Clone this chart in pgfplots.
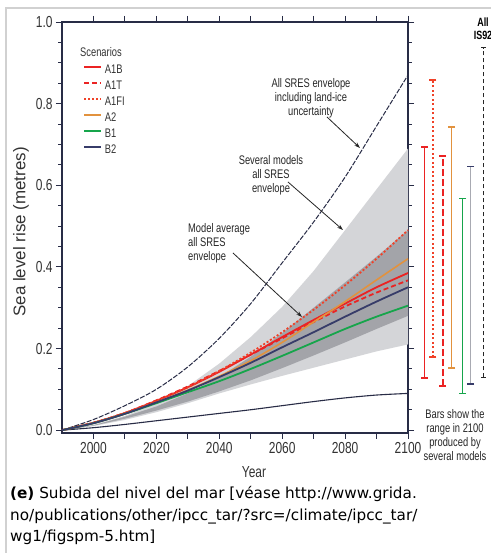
\documentclass[border=0pt]{standalone}
\usepackage{fontspec}
\setmainfont{Liberation Sans}
\newfontfamily\cond[FakeStretch=0.75]{Liberation Sans}
\newfontfamily\capfont{DejaVu Sans}
\usepackage{pgfplots}
\usepackage{pgfplotstable}
\pgfplotsset{compat=1.18}
\usetikzlibrary{arrows.meta}
\definecolor{axc}{RGB}{40,44,70}
\definecolor{lgray}{RGB}{212,213,216}
\definecolor{dgray}{RGB}{163,164,169}
\definecolor{cA1B}{RGB}{235,35,35}
\definecolor{cA1FI}{RGB}{240,65,40}
\definecolor{cA2}{RGB}{226,146,62}
\definecolor{cB1}{RGB}{22,165,75}
\definecolor{cB2}{RGB}{55,60,105}
\definecolor{bargray}{RGB}{168,170,178}
\pgfplotstableread{
year UO    LO    A1B   A1T   A1FI  A2    B1    B2
1990 0     0     0     0     0     0     0     0
2000 0.026 0.006 0.018 0.018 0.018 0.017 0.017 0.017
2010 0.060 0.014 0.042 0.042 0.042 0.040 0.040 0.040
2020 0.100 0.023 0.072 0.073 0.072 0.068 0.066 0.068
2030 0.155 0.032 0.105 0.107 0.105 0.098 0.093 0.097
2040 0.225 0.041 0.143 0.145 0.145 0.132 0.120 0.130
2050 0.310 0.050 0.185 0.185 0.190 0.170 0.150 0.165
2060 0.410 0.060 0.228 0.225 0.240 0.215 0.182 0.203
2070 0.510 0.070 0.270 0.265 0.295 0.265 0.215 0.240
2080 0.620 0.079 0.310 0.303 0.355 0.315 0.248 0.278
2090 0.745 0.086 0.350 0.337 0.420 0.368 0.278 0.315
2100 0.870 0.090 0.385 0.367 0.490 0.420 0.305 0.350
}\data
\begin{document}
\begin{tikzpicture}
\useasboundingbox (0,0) rectangle (491bp,553bp);
\fill[white] (0,0) rectangle (491bp,553bp);
\draw[black!18, line width=1.5bp] (6bp,0bp) -- (6bp,545bp) -- (492bp,545bp);
\begin{axis}[
 at={(62bp,120bp)}, anchor=south west,
 scale only axis, width=346bp, height=411bp,
 xmin=1990, xmax=2100, ymin=-0.007, ymax=1.0,
 clip=false,
 axis line style={axc, line width=1.1bp},
 tick style={axc, line width=0.9bp},
 tick align=outside, tick pos=both,
 major tick length=6bp, minor tick length=3.5bp,
 xtick={2000,2010,...,2100},
 xticklabels={2000,,2020,,2040,,2060,,2080,,2100},
 ytick={0,0.2,0.4,0.6,0.8,1.0},
 yticklabels={0.0,0.2,0.4,0.6,0.8,1.0},
 minor ytick={0.05,0.1,0.15,0.25,0.3,0.35,0.45,0.5,0.55,0.65,0.7,0.75,0.85,0.9,0.95},
 tick label style={font=\cond\fontsize{16}{16}\selectfont, text=black!80},
 legend style={at={(0.052,0.901)}, anchor=north west, draw=none, fill=none,
   font=\cond\fontsize{12.5}{12.5}\selectfont, row sep=5bp,
   nodes={inner sep=0pt, text height=9bp, text depth=2bp, text=black!80},
   /tikz/every odd column/.append style={column sep=3bp}},
 legend cell align=left,
 legend image code/.code={\draw[#1] (0bp,3.5bp) -- (17bp,3.5bp);},
]
% several models, all SRES envelope (light) and model average envelope (dark)
\addplot[fill=lgray, draw=none, forget plot] coordinates {
 (1990,0) (2000,0.013) (2010,0.035) (2020,0.066) (2030,0.108) (2040,0.163) (2050,0.228)
 (2060,0.302) (2070,0.390) (2080,0.490) (2090,0.590) (2100,0.690)
 (2100,0.210) (2090,0.193) (2080,0.173) (2070,0.153) (2060,0.133) (2050,0.112)
 (2040,0.090) (2030,0.066) (2020,0.044) (2010,0.025) (2000,0.010) (1990,0)} -- cycle;
\addplot[fill=dgray, draw=none, forget plot] coordinates {
 (1990,0) (2000,0.012) (2010,0.033) (2020,0.058) (2030,0.090) (2040,0.130) (2050,0.180)
 (2060,0.238) (2070,0.300) (2080,0.362) (2090,0.425) (2100,0.490)
 (2100,0.280) (2090,0.248) (2080,0.215) (2070,0.183) (2060,0.152) (2050,0.122)
 (2040,0.095) (2030,0.070) (2020,0.048) (2010,0.028) (2000,0.011) (1990,0)} -- cycle;
\addplot[axc, line width=1bp, dash pattern=on 5bp off 1.5bp, smooth, forget plot] table[x=year,y=UO]{\data};
\addplot[axc, line width=1.1bp, smooth, forget plot] table[x=year,y=LO]{\data};
% scenarios
\addplot[cA1B, line width=1.8bp, smooth] table[x=year,y=A1B]{\data};
\addlegendentry{A1B}
\addplot[cA1B, line width=1.8bp, dash pattern=on 5bp off 3bp, smooth] table[x=year,y=A1T]{\data};
\addlegendentry{A1T}
\addplot[cA1FI, line width=1.8bp, dash pattern=on 2bp off 2bp, smooth] table[x=year,y=A1FI]{\data};
\addlegendentry{A1FI}
\addplot[cA2, line width=1.6bp, smooth] table[x=year,y=A2]{\data};
\addlegendentry{A2}
\addplot[cB1, line width=1.8bp, smooth] table[x=year,y=B1]{\data};
\addlegendentry{B1}
\addplot[cB2, line width=1.8bp, smooth] table[x=year,y=B2]{\data};
\addlegendentry{B2}
% range bars in 2100
\addplot[cA1B, line width=1.5bp, mark=-, mark size=3.5bp, forget plot] coordinates {(2105.2,0.128) (2105.2,0.694)};
\addplot[cA1FI, line width=2.2bp, dash pattern=on 2bp off 2.5bp, mark=-, mark size=3.5bp, mark options={solid}, forget plot] coordinates {(2107.9,0.179) (2107.9,0.858)};
\addplot[cA1B, line width=2.2bp, dash pattern=on 7bp off 3bp, mark=-, mark size=3.5bp, mark options={solid}, forget plot] coordinates {(2111.0,0.109) (2111.0,0.672)};
\addplot[cA2, line width=1.3bp, mark=-, mark size=3.5bp, forget plot] coordinates {(2113.9,0.152) (2113.9,0.743)};
\addplot[cB1, line width=1.3bp, mark=-, mark size=3.5bp, forget plot] coordinates {(2117.4,0.089) (2117.4,0.567)};
\addplot[bargray, line width=1.6bp, mark=-, mark size=3.5bp, mark options={cB2, solid}, forget plot] coordinates {(2119.9,0.113) (2119.9,0.646)};
\addplot[black!85, line width=1bp, dash pattern=on 4bp off 3bp, mark=-, mark size=2.5bp, mark options={solid}, forget plot] coordinates {(2123.9,0.129) (2123.9,0.937)};
\end{axis}
% texts
\node[anchor=west, inner sep=0, font=\cond\fontsize{12.5}{12.5}\selectfont, text=black!80] at (80bp,501bp) {Scenarios};
\node[rotate=90, inner sep=0, font=\fontsize{17}{17}\selectfont, text=black!80] at (21bp,321bp) {Sea level rise (metres)};
\node[inner sep=0, font=\cond\fontsize{16}{16}\selectfont, text=black!80] at (254bp,81bp) {Year};
\begin{scope}[font=\cond\fontsize{12.5}{14}\selectfont, text=black!85]
\node[align=center, inner sep=0] at (311bp,455bp) {All SRES envelope\\including land-ice\\uncertainty};
\node[align=center, inner sep=0] at (271bp,378bp) {Several models\\all SRES\\envelope};
\node[align=left, anchor=west, inner sep=0] at (188bp,310bp) {Model average\\all SRES\\envelope};
\node[align=center, inner sep=0] at (455bp,118bp) {Bars show the\\range in 2100\\produced by\\several models};
\end{scope}
\node[align=center, inner sep=0, font=\cond\bfseries\fontsize{12}{13}\selectfont] at (483bp,524bp) {All\\IS92};
\begin{scope}[-{Stealth[length=6bp,width=4bp]}, line width=0.8bp, black!85]
\draw (327bp,436bp) -- (360bp,405bp);
\draw (288bp,371bp) -- (343bp,323bp);
\draw (233bp,300bp) -- (302bp,236bp);
\end{scope}
\begin{scope}[font=\capfont\fontsize{15.3}{15.3}\selectfont]
\node[anchor=base west, inner sep=0] at (10bp,54bp) {\textbf{(e)} Subida del nivel del mar [véase http://www.grida.};
\node[anchor=base west, inner sep=0] at (10bp,33bp) {no/publications/other/ipcc\_tar/?src=/climate/ipcc\_tar/};
\node[anchor=base west, inner sep=0] at (10bp,12bp) {wg1/figspm-5.htm]};
\end{scope}
\end{tikzpicture}
\end{document}
